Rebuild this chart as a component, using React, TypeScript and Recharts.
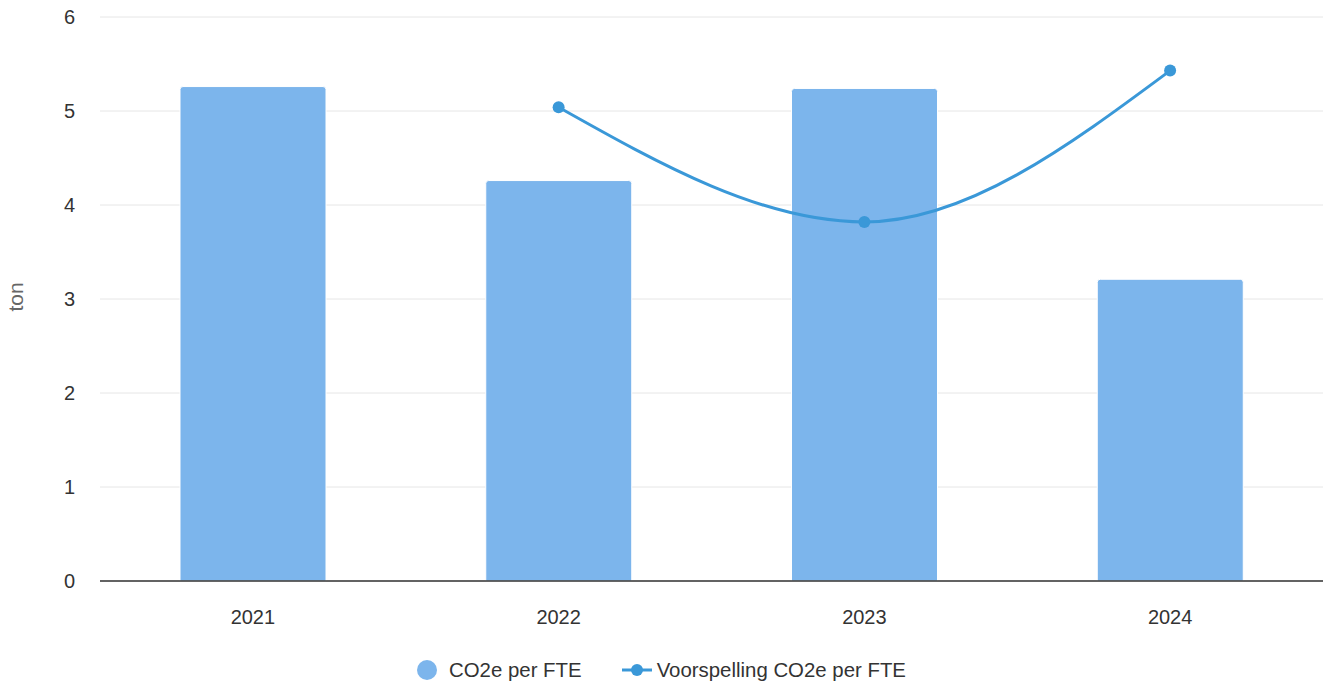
import React from "react";
import {
  ComposedChart,
  Bar,
  Line,
  XAxis,
  YAxis,
  CartesianGrid,
} from "recharts";

const years = ["2021", "2022", "2023", "2024"];
const co2PerFte = [5.26, 4.26, 5.24, 3.21];
const forecastCo2PerFte = [null, 5.04, 3.82, 5.43];
const yTicks = [0, 1, 2, 3, 4, 5, 6];

const barColor = "#7cb5ec";
const lineColor = "#3a98d8";
const font = "'Liberation Sans', Arial, Helvetica, sans-serif";

const data = years.map((year, i) => ({
  year,
  actual: co2PerFte[i],
  forecast: forecastCo2PerFte[i],
}));

function LegendRow() {
  return (
    <div
      style={{
        position: "absolute",
        left: 0,
        top: 657,
        width: 1323,
        display: "flex",
        justifyContent: "center",
        alignItems: "center",
        fontFamily: font,
        fontSize: 20.4,
        color: "#333",
        height: 26,
      }}
    >
      <span
        style={{
          display: "inline-block",
          width: 20,
          height: 20,
          borderRadius: 10,
          background: barColor,
          marginRight: 12,
        }}
      />
      <span style={{ marginRight: 40 }}>CO2e per FTE</span>
      <svg width={30} height={14} style={{ marginRight: 5 }}>
        <line x1={0} y1={7} x2={30} y2={7} stroke={lineColor} strokeWidth={3} />
        <circle cx={15} cy={7} r={6} fill={lineColor} />
      </svg>
      <span>Voorspelling CO2e per FTE</span>
    </div>
  );
}

export default function App() {
  return (
    <div
      style={{
        position: "absolute",
        left: 0,
        top: 0,
        width: 1323,
        height: 686,
        background: "#fff",
        fontFamily: font,
      }}
    >
      <ComposedChart
        width={1323}
        height={686}
        data={data}
        margin={{ top: 17, right: 0, bottom: 45, left: 0 }}
      >
        <CartesianGrid vertical={false} stroke="#e6e6e6" strokeWidth={1} />
        <XAxis
          dataKey="year"
          height={60}
          tickLine={false}
          tickSize={0}
          tickMargin={29}
          axisLine={{ stroke: "#333", strokeWidth: 1.5 }}
          tick={{ fill: "#333", fontSize: 20, fontFamily: font }}
        />
        <YAxis
          width={100}
          domain={[0, 6]}
          ticks={yTicks}
          axisLine={false}
          tickLine={false}
          tickSize={0}
          tickMargin={25}
          tick={{ fill: "#333", fontSize: 20, fontFamily: font }}
        />
        <Bar
          dataKey="actual"
          name="CO2e per FTE"
          fill={barColor}
          stroke="#fff"
          strokeWidth={1}
          barSize={146}
          radius={[3, 3, 0, 0]}
          isAnimationActive={false}
        />
        <Line
          type="monotone"
          dataKey="forecast"
          name="Voorspelling CO2e per FTE"
          stroke={lineColor}
          strokeWidth={3}
          dot={{ r: 6, fill: lineColor, stroke: lineColor, strokeWidth: 0 }}
          activeDot={false}
          connectNulls={false}
          isAnimationActive={false}
        />
      </ComposedChart>
      <div
        style={{
          position: "absolute",
          left: 16,
          top: 297,
          transform: "translate(-50%, -50%) rotate(-90deg)",
          fontSize: 21,
          color: "#666",
          fontFamily: font,
          whiteSpace: "nowrap",
        }}
      >
        ton
      </div>
      <LegendRow />
    </div>
  );
}
